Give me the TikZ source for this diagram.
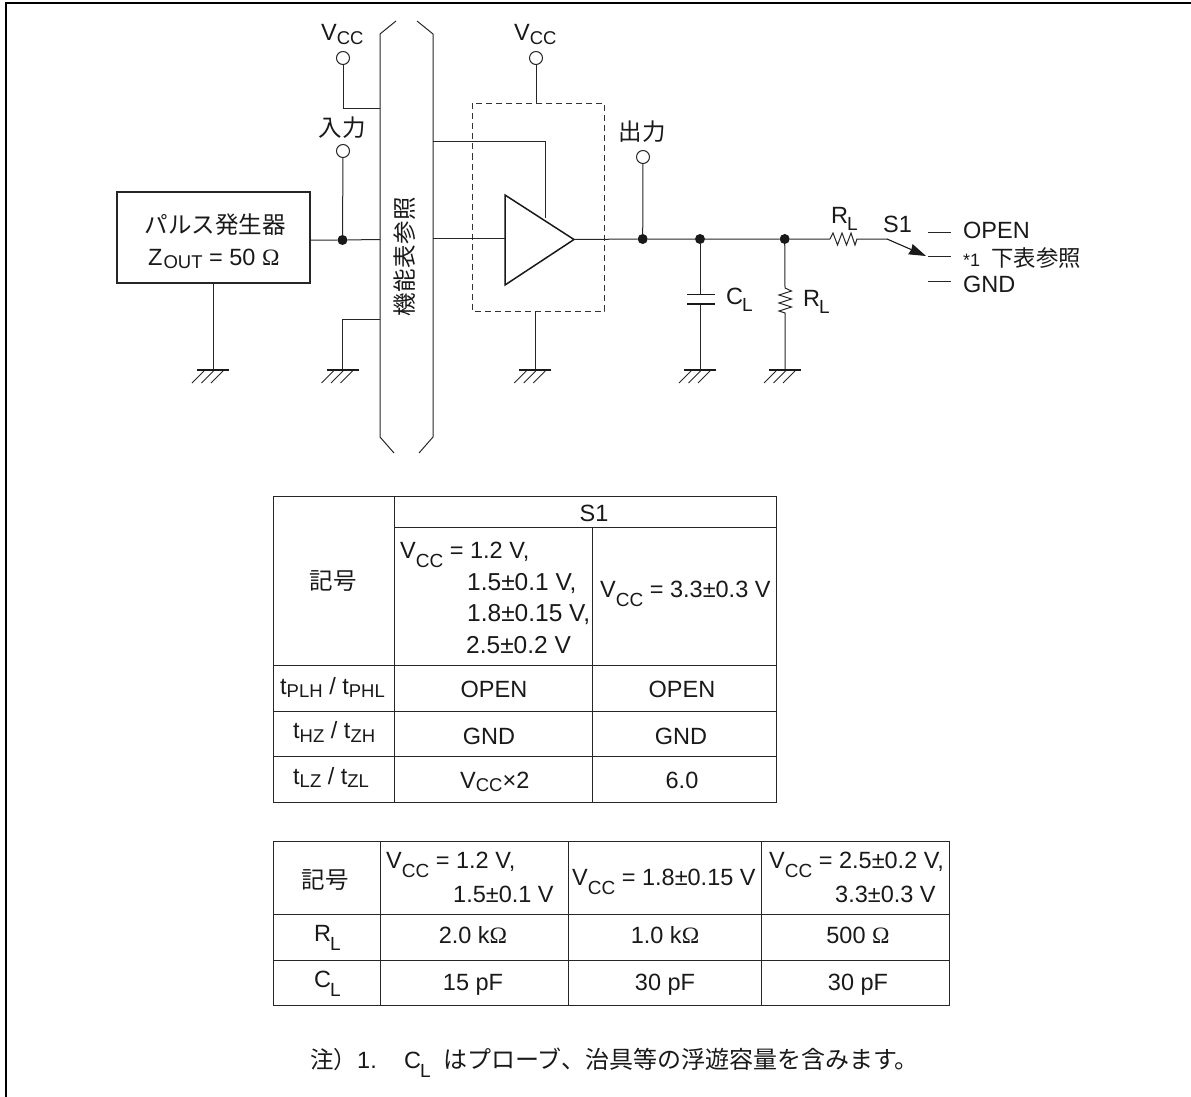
\documentclass[tikz,border=0pt]{standalone}
\usepackage{fontspec}
\setmainfont{Liberation Sans}
\newfontfamily\cjk{Noto Sans CJK JP}
\newfontfamily\omg{Liberation Serif}
\usetikzlibrary{arrows.meta}
\def\sublow#1{\raisebox{-3.5pt}{\fontsize{18.5}{20}\selectfont #1}}
\def\subhalf#1{\raisebox{-7pt}{\fontsize{19}{20}\selectfont #1}}
\def\subdeep#1{\raisebox{-9.5pt}{\fontsize{19}{20}\selectfont #1}}
\def\earth(#1){
	\draw[gndbar] (#1) ++(-16,0) -- ++(32,0);
	\draw[hatch] (#1) ++(-21,13) -- ++(12,-12);
	\draw[hatch] (#1) ++(-11.5,13) -- ++(12,-12);
	\draw[hatch] (#1) ++(-2,13) -- ++(12,-12);
}
\tikzset{
	wire/.style={line width=1pt, black!85},
	gndbar/.style={line width=2.4pt, black!90},
	hatch/.style={line width=0.9pt, black!85},
	grid/.style={line width=1pt, black!85},
	port/.style={circle, draw=black!85, line width=1pt, fill=white, inner sep=0pt, minimum size=13pt},
	junction/.style={circle, fill=black!90, inner sep=0pt, minimum size=10pt},
	txt/.style={inner sep=0pt, anchor=base, font=\fontsize{23.5}{27}\selectfont, black!90},
	txtw/.style={txt, anchor=base west},
	txtwide/.style={txtw, font=\fontsize{24.5}{27}\selectfont},
}
\begin{document}
\begin{tikzpicture}[x=1pt, y=-1pt]
	\useasboundingbox (0,0) rectangle (1191,1097);
	%%%%% FRAME %%%%%
	\draw[line width=2.2pt] (6,1097) -- (6,3) -- (1191,3);

	%%%%% CIRCUIT %%%%%
	\node[draw=black!85, line width=1.5pt, minimum width=193pt, minimum height=91pt, inner sep=0pt] (gen) at (213.5,237.5) {};
	\node[txt] (gentitle) at (215,233) {\cjk パルス発生器};
	\node[txtw] (genz) at (148,265) {Z\sublow{\hspace{1pt}OUT} = 50 {\omg Ω}};

	% bus
	\draw[wire] (396,21) -- (380,34) -- (380,437) -- (394,453);
	\draw[wire] (417,21) -- (433,34) -- (433,437) -- (419,453);
	\node[txt, rotate=90, anchor=center] (buslabel) at (405,257) {\cjk\addfontfeature{LetterSpace=2}機能表参照};

	% buffer
	\draw[dash pattern=on 6pt off 4pt, line width=1pt, black!80] (472,103.5) rectangle (604.5,311);
	\coordinate (tria) at (505,195);
	\coordinate (trib) at (505,285);
	\coordinate (tric) at (574,239.5);
	\draw[line width=1.5pt, black!90, line join=miter] (tria) -- (trib) -- (tric) -- cycle;

	% ports
	\node[port] (vcca) at (343,58) {};
	\node[port] (vccb) at (536,58) {};
	\node[port] (inp) at (343,151) {};
	\node[port] (outp) at (643,157) {};
	\node[txtw] (vccatxt) at (321,41) {V\sublow{CC}};
	\node[txtw] (vccbtxt) at (514,41) {V\sublow{CC}};
	\node[txt] (inptxt) at (342,136) {\cjk 入力};
	\node[txt] (outptxt) at (642,141) {\cjk 出力};

	% junctions
	\node[junction] (ja) at (342.5,240) {};
	\node[junction] (jb) at (642.7,239) {};
	\node[junction] (jc) at (700,239) {};
	\node[junction] (jd) at (784.7,239) {};

	% wiring
	\coordinate (busvcc) at (380,109);
	\coordinate (busgnd) at (380,319);
	\coordinate (busin) at (380,239.5);
	\coordinate (busoutc) at (433,142);
	\coordinate (busouti) at (433,238);
	\coordinate (gnda) at (213,370);
	\coordinate (gndb) at (342.5,370);
	\coordinate (gndc) at (535.3,370);
	\coordinate (gndd) at (700,370);
	\coordinate (gnde) at (785,370);
	\draw[wire] (vcca) |- (busvcc);
	\draw[wire] (inp) -- (ja);
	\draw[wire] (gen.east |- ja) -- (ja) -- (busin);
	\draw[wire] (gnda |- gen.south) -- (gnda);
	\draw[wire] (gndb) |- (busgnd);
	\draw[wire] (vccb) -- (536,103.5);
	\draw[wire] (gndc) -- (535.3,311);
	\draw[wire] (busoutc) -| (545,218);
	\draw[wire] (busouti) -- (505,238);
	\draw[wire] (tric) -- (jb) -- (jc) -- (jd) -- (830,239);
	\draw[wire] (outp) -- (jb);
	\earth(gnda)
	\earth(gndb)
	\earth(gndc)
	\earth(gndd)
	\earth(gnde)

	% load
	\draw[wire] (jc) -- (700,294.5);
	\draw[wire] (700,304) -- (gndd);
	\draw[line width=1.4pt, black!90] (687,294.5) -- (714.5,294.5);
	\draw[line width=1.4pt, black!90] (687,304) -- (714.5,304);
	\draw[wire] (jd) -- (785,288) -- (791.5,291) -- (779,295) -- (791.5,299) -- (779,303) -- (791.5,307) -- (779,311) -- (785,313) -- (gnde);
	\draw[wire] (830,239) -- (833,233) -- (837.5,245) -- (842,233) -- (846.5,245) -- (851,233) -- (855,245) -- (857,239) -- (887,239);
	\coordinate (swa) at (887,239);
	\coordinate (swb) at (926,256);
	\draw[line width=1.1pt, black!90, -{Stealth[inset=1pt, length=17pt, width=11pt]}] (swa) -- (swb);
	\draw[wire] (928,232.5) -- (951,232.5);
	\draw[wire] (928,256.5) -- (951,256.5);
	\draw[wire] (928,281.5) -- (951,281.5);

	\node[txtw] (rltop) at (831,223) {R\subhalf{\hspace{-1pt}L}};
	\node[txtw] (s1txt) at (883,232.5) {S1};
	\node[txtw] (opentxt) at (963,238) {OPEN};
	\node[txtw] (stubtxt) at (963,266) {\fontsize{18}{20}\selectfont *1\hspace{11pt}\fontsize{22.4}{26}\cjk 下表参照};
	\node[txtw] (gndtxt) at (963,292) {GND};
	\node[txtw] (cltxt) at (726,304) {C\subhalf{\hspace{-1pt}L}};
	\node[txtw] (rlside) at (803,306.5) {R\subhalf{\hspace{-1pt}L}};

	%%%%% TABLE ONE %%%%%
	\draw[grid] (273,496) rectangle (776,802);
	\draw[grid] (394,527) -- (776,527);
	\draw[grid] (273,665) -- (776,665);
	\draw[grid] (273,711) -- (776,711);
	\draw[grid] (273,756) -- (776,756);
	\draw[grid] (394,496) -- (394,802);
	\draw[grid] (592,527) -- (592,802);

	\node[txt] (symone) at (333,589) {\cjk 記号};
	\node[txt] (sone) at (594,521.5) {S1};
	\node[txtw] (vcconea) at (400,558) {V\subdeep{CC} = 1.2 V,};
	\node[txtwide] (vcconeb) at (467,590) {1.5±0.1 V,};
	\node[txtwide] (vcconec) at (467,621.5) {1.8±0.15 V,};
	\node[txtwide] (vcconed) at (466,653) {2.5±0.2 V};
	\node[txtw] (vcctwo) at (600,597) {V\subdeep{CC} = 3.3±0.3 V};
	\node[txtw] (tplh) at (280,694) {t\sublow{PLH} / t\sublow{PHL}};
	\node[txtw] (thz) at (293,738.5) {t\sublow{HZ} / t\sublow{ZH}};
	\node[txtw] (tlz) at (293,784) {t\sublow{LZ} / t\sublow{ZL}};
	\node[txt] (openleft) at (494,697) {OPEN};
	\node[txt] (openright) at (682,697) {OPEN};
	\node[txt] (gndleft) at (489,744) {GND};
	\node[txt] (gndright) at (681,744) {GND};
	\node[txtw] (vcctimes) at (460,788) {V\sublow{CC}×2};
	\node[txt] (six) at (682,788) {6.0};

	%%%%% TABLE TWO %%%%%
	\draw[grid] (273,841) rectangle (949,1005);
	\draw[grid] (273,914) -- (949,914);
	\draw[grid] (273,960) -- (949,960);
	\draw[grid] (380,841) -- (380,1005);
	\draw[grid] (568.5,841) -- (568.5,1005);
	\draw[grid] (761,841) -- (761,1005);

	\node[txt] (symtwo) at (325,888) {\cjk 記号};
	\node[txtw] (vccrowa) at (386,868) {V\subdeep{CC} = 1.2 V,};
	\node[txtw] (vccrowb) at (453,902) {1.5±0.1 V};
	\node[txtw] (vccrowc) at (572,885) {V\subdeep{CC} = 1.8±0.15 V};
	\node[txtw] (vccrowd) at (769,868) {V\subdeep{CC} = 2.5±0.2 V,};
	\node[txtw] (vccrowe) at (835,902) {3.3±0.3 V};
	\node[txtw] (rlrow) at (314,941) {R\subdeep{\hspace{-1pt}L}};
	\node[txtw] (clrow) at (314,987) {C\subdeep{\hspace{-1pt}L}};
	\node[txt] (rla) at (473,943) {2.0 k{\omg Ω}};
	\node[txt] (rlb) at (665,943) {1.0 k{\omg Ω}};
	\node[txt] (rlc) at (858,943) {500 {\omg Ω}};
	\node[txt] (cla) at (473,990) {15 pF};
	\node[txt] (clb) at (665,990) {30 pF};
	\node[txt] (clc) at (858,990) {30 pF};

	%%%%% NOTE %%%%%
	\node[txtw] (notehead) at (310,1068) {\cjk 注）};
	\node[txtw] (noteone) at (357,1068) {1.};
	\node[txtw] (notecl) at (404,1068) {C\subdeep{\hspace{-1pt}L}};
	\node[txtw] (notebody) at (443,1068) {\fontsize{24}{27}\selectfont\cjk はプローブ、治具等の浮遊容量を含みます。};
\end{tikzpicture}
\end{document}
